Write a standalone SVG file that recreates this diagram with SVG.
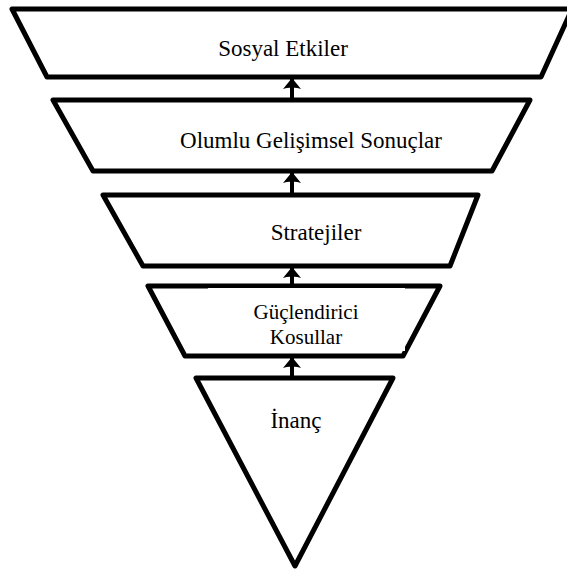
<svg xmlns="http://www.w3.org/2000/svg" width="567" height="572" viewBox="0 0 567 572">
<style>
.shape{fill:#fff;stroke:#000;stroke-width:5;stroke-linejoin:round}
.lbl{font-family:"Liberation Serif","Times New Roman",serif;fill:#000;text-anchor:middle}
.conn{stroke:#000;stroke-width:4;fill:none}
</style>
<defs>
<marker id="ah" viewBox="0 -10 12 20" refX="10" refY="0" markerWidth="12" markerHeight="20" markerUnits="userSpaceOnUse" orient="auto">
<path d="M11,0 L0,-9 Q2,-3 1,0 Q2,3 0,9 Z" fill="#000"/>
</marker>
</defs>
<rect width="567" height="572" fill="#fff"/>
<g id="connectors">
<line class="conn" x1="292" y1="99" x2="292" y2="79" marker-end="url(#ah)"/>
<line class="conn" x1="292" y1="194" x2="292" y2="173" marker-end="url(#ah)"/>
<line class="conn" x1="292" y1="285" x2="292" y2="268" marker-end="url(#ah)"/>
<line class="conn" x1="292" y1="377" x2="292" y2="358" marker-end="url(#ah)"/>
</g>
<g id="sosyal-etkiler">
<polygon class="shape" points="12,9 572,9 541,77 47,77"/>
<text class="lbl" x="283" y="56" font-size="23">Sosyal Etkiler</text>
</g>
<g id="olumlu-gelisimsel-sonuclar">
<polygon class="shape" points="53,100 530,100 492,171 93,171"/>
<text class="lbl" x="311" y="148" font-size="23">Olumlu Gelişimsel Sonuçlar</text>
</g>
<g id="stratejiler">
<polygon class="shape" points="103,195 478,195 450,266 143,266"/>
<text class="lbl" x="316" y="240" font-size="23">Stratejiler</text>
</g>
<g id="guclendirici-kosullar">
<polygon class="shape" points="148,286 440,286 403,356 185,356"/>
<rect x="208" y="288" width="197" height="63" fill="#fff"/>
<text class="lbl" x="306" y="319" font-size="21">Güçlendirici</text>
<text class="lbl" x="306" y="344" font-size="21">Kosullar</text>
</g>
<g id="inanc">
<polygon class="shape" points="196,378 393,378 295,566"/>
<text class="lbl" x="296" y="428" font-size="23">İnanç</text>
</g>
</svg>
